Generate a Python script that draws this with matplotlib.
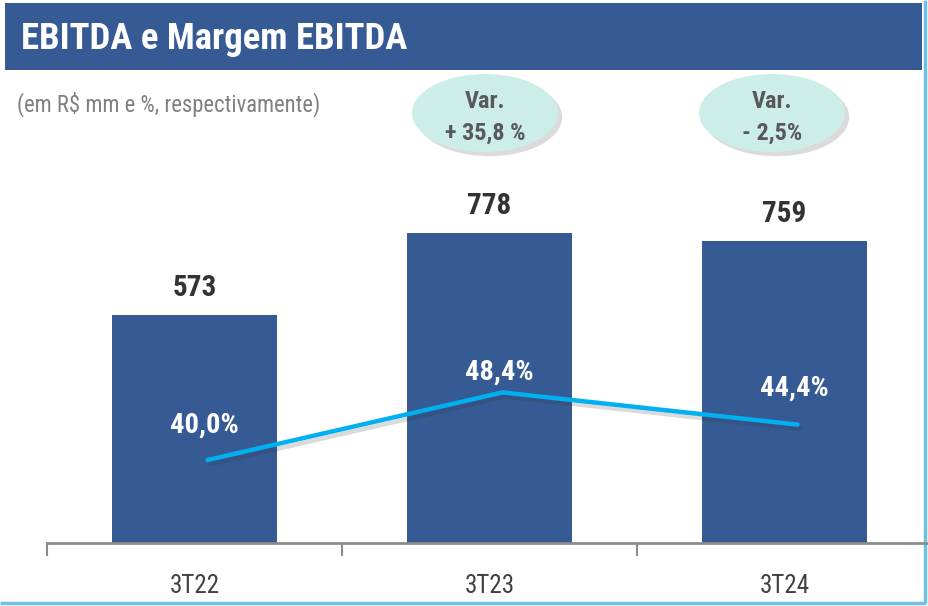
import matplotlib
matplotlib.use("Agg")
import matplotlib.pyplot as plt
from matplotlib.patches import Rectangle, Ellipse
import matplotlib.patheffects as pe

# ---- data ----
categories = ["3T22", "3T23", "3T24"]
ebitda = [573, 778, 759]
ebitda_labels = ["573", "778", "759"]
margin = [40.0, 48.4, 44.4]
margin_labels = ["40,0%", "48,4%", "44,4%"]
title = "EBITDA e Margem EBITDA"
subtitle = "(em R$ mm e %, respectivamente)"
var_labels = ["Var.\n+ 35,8 %", "Var.\n- 2,5%"]

# ---- fonts ----
plt.rcParams['font.family'] = ['Roboto Condensed', 'Liberation Sans', 'DejaVu Sans']

W, H = 929, 606
fig = plt.figure(figsize=(W / 100, H / 100), dpi=100)
fig.patch.set_facecolor("white")

def fx(x): return x / W
def fy(y): return 1 - y / H

# overlay for decorations (pixel coordinates)
deco = fig.add_axes([0, 0, 1, 1], zorder=0)
deco.set_xlim(0, W)
deco.set_ylim(H, 0)
deco.axis("off")

blue = "#365A94"
deco.add_patch(Rectangle((5, 3), 917, 67, facecolor=blue, edgecolor="none"))
deco.text(21, 39, title, color="white", fontsize=26.5, fontweight="bold",
          va="center", ha="left")
deco.text(17, 104, subtitle, color="#808080", fontsize=16.3, va="center", ha="left")
# light blue frame on right and bottom
deco.plot([925, 925], [0, 603], color="#6EC1E4", lw=2.5, solid_capstyle="butt")
deco.plot([0, 926], [603, 603], color="#6EC1E4", lw=2.5, solid_capstyle="butt")

for (cx, lbl) in zip([485, 772], var_labels):
    e = Ellipse((cx, 113), 146, 78, facecolor="#CDEDE9", edgecolor="none",
                path_effects=[pe.SimplePatchShadow(offset=(3, -3), shadow_rgbFace="#8a8a8a", alpha=0.3),
                              pe.Normal()])
    deco.add_patch(e)
    l1, l2 = lbl.split("\n")
    deco.text(cx, 101, l1, color="#595959", fontsize=17.5, fontweight="bold", ha="center", va="center")
    deco.text(cx, 133, l2, color="#595959", fontsize=17.5, fontweight="bold", ha="center", va="center")

# ---- main axes ----
ax_left, ax_right = 47, 932
ax_bottom, ax_top = 543, 150
ax = fig.add_axes([fx(ax_left), fy(ax_bottom), (ax_right - ax_left) / W, (ax_bottom - ax_top) / H],
                  zorder=2)
ax.patch.set_alpha(0)
x = list(range(len(categories)))
ax.bar(x, ebitda, width=0.56, color=blue, zorder=2)
ax.set_xlim(-0.5, 2.5)
ax.set_ylim(0, (ax_bottom - ax_top) / 0.398)
for s in ["top", "right", "left"]:
    ax.spines[s].set_visible(False)
ax.spines["bottom"].set_color("#8c8c8c")
ax.spines["bottom"].set_linewidth(2)
ax.set_yticks([])
ax.set_xticks([-0.5, 0.5, 1.5, 2.5])
ax.set_xticklabels([])
ax.set_xticks(x, minor=True)
ax.set_xticklabels(categories, minor=True, fontsize=18, color="#404040")
ax.tick_params(axis="x", which="major", length=9, width=1.5, color="#8c8c8c", direction="out")
ax.tick_params(axis="x", which="minor", length=0, pad=22)

for xi, v, lbl in zip(x, ebitda, ebitda_labels):
    ax.annotate(lbl, (xi, v), xytext=(0, 27), textcoords="offset pixels",
                ha="center", va="center", fontsize=21, fontweight="bold", color="#333333")

# margin line on secondary axis
ax2 = ax.twinx()
ax2.set_zorder(3)
ax2.patch.set_alpha(0)
ax2.set_ylim(29.7, 78.5)
ax2.axis("off")
xl = [xi + 0.044 for xi in x]
ax2.plot(xl, margin, color="#00B0F0", lw=3.2, solid_capstyle="round",
         path_effects=[pe.SimpleLineShadow(offset=(2, -3), shadow_color="#333333", alpha=0.18),
                       pe.Normal()])
label_offsets = [(-3, 35), (-3, 20), (-3, 36)]
for xi, v, lbl, off in zip(xl, margin, margin_labels, label_offsets):
    ax2.annotate(lbl, (xi, v), xytext=off, textcoords="offset pixels",
                 ha="center", va="center", fontsize=20.5, fontweight="bold", color="white")

fig.savefig("out.png", dpi=100, facecolor="white")
